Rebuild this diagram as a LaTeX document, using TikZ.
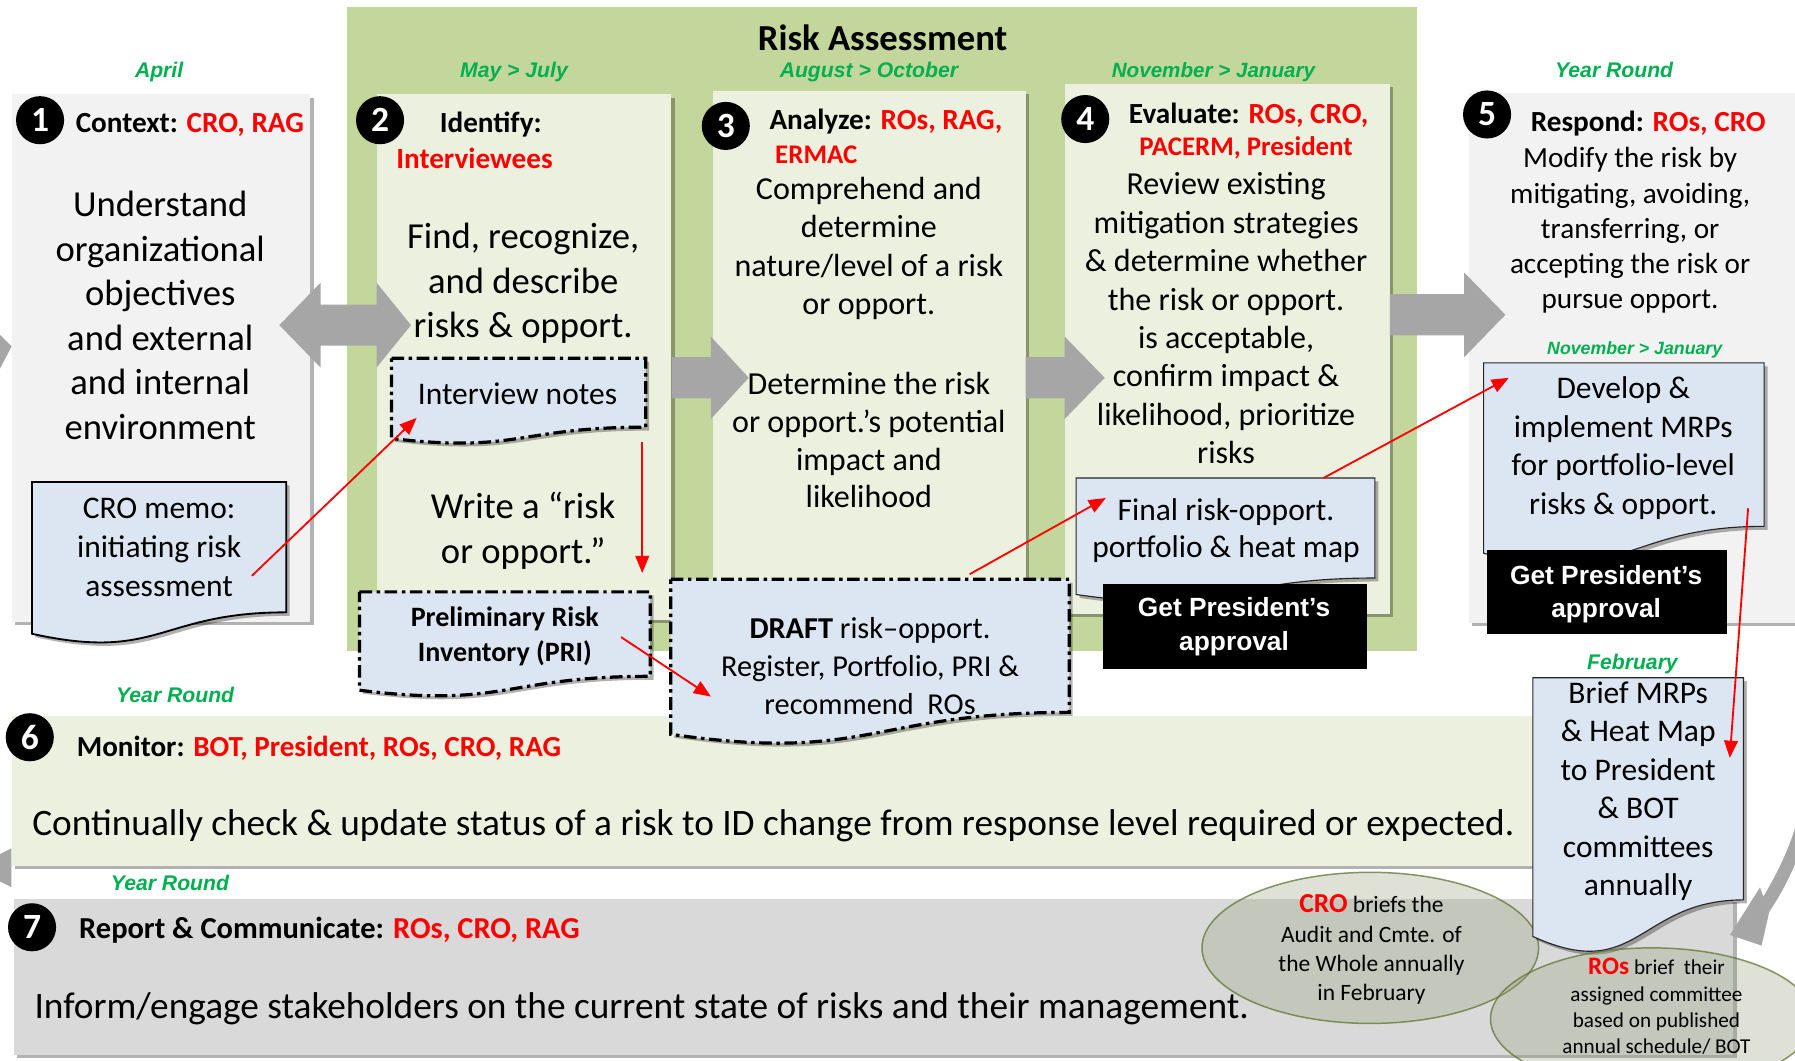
\documentclass[tikz,border=0pt]{standalone}
\usepackage{fontspec}
\setmainfont{Carlito}
\newfontfamily\arialf{Liberation Sans}
\usetikzlibrary{shadows,arrows.meta,shapes.geometric}
\definecolor{greenbg}{HTML}{C3D69B}
\definecolor{boxgreen}{HTML}{EBF1DE}
\definecolor{boxgray}{HTML}{F2F2F2}
\definecolor{boxseven}{HTML}{D9D9D9}
\definecolor{docblue}{HTML}{DCE6F2}
\definecolor{arrowgray}{HTML}{A6A6A6}
\definecolor{monthgreen}{HTML}{00B050}
\definecolor{ellfill}{RGB}{150,158,120}
\definecolor{elldraw}{RGB}{95,117,48}
\newcommand\fs[2]{\fontsize{#1}{#2}\selectfont}
\newcommand\redt[1]{\textcolor{red}{#1}}
\newcommand\greent[1]{\textcolor{monthgreen}{#1}}
\newcommand\docpath[5][]{\path[#1] (#2,#3) -- (#4,#3) -- (#4,{#3+0.802*#5}) .. controls ({(#2+#4)/2},{#3+0.802*#5}) and ({(#2+#4)/2},{#3+1.1075*#5}) .. (#2,{#3+0.934*#5}) -- cycle;}
\begin{document}
\begin{tikzpicture}[x=1pt,y=-1pt,
  shd/.style={drop shadow={shadow xshift=3pt,shadow yshift=-3pt,opacity=0.3,fill=black}},
  boxn/.style={draw=none,inner sep=0pt,shd,anchor=north west},
  docsolid/.style={fill=docblue,draw=black!85,line width=1pt,shd},
  docmemo/.style={fill=docblue,draw=black,line width=1.6pt,shd},
  docdash/.style={fill=docblue,draw=black,line width=2.8pt,dash pattern=on 11pt off 4pt on 3pt off 4pt,shd},
  blackbox/.style={fill=black,draw=none,inner sep=0pt,anchor=north west},
  badge/.style={circle,fill=black,text=white,minimum size=42pt,inner sep=0pt,font=\bfseries\fs{31}{31}},
  month/.style={anchor=base,inner sep=0pt,font=\arialf\bfseries\itshape\fs{18.5}{20}},
  hdr/.style={anchor=base west,inner sep=0pt,font=\bfseries\fs{25.5}{28}},
  body/.style={align=center,inner sep=0pt},
  approval/.style={align=center,inner sep=0pt,text=white,font=\arialf\bfseries\fs{23}{29}},
  garrow/.style={fill=arrowgray,draw=none},
  rarrow/.style={draw=red,line width=1.6pt,-{Triangle[length=15pt,width=12pt]}},
  ell/.style={ellipse,fill=ellfill,fill opacity=0.3,draw=elldraw,draw opacity=0.75,line width=1.3pt,inner sep=0pt}
]
\useasboundingbox (0,0) rectangle (1568,926);
\begin{scope}
\clip (0,0) rectangle (1568,926);
\fill[white] (0,0) rectangle (1568,926);

% Risk assessment background
\fill[greenbg] (303,6) rectangle (1238,569);
\node[anchor=base,inner sep=0pt,font=\bfseries\fs{32}{34}] (title) at (771,43.7) {Risk Assessment};

% partial cycle arrows at the left edge
\fill[garrow] (0,292.5) -- (10.2,302.6) -- (0,322) -- cycle;
\fill[garrow] (0,746) -- (10,741) -- (10,775) -- (0,770) -- cycle;

% stage boxes
\node[boxn,fill=boxgray,minimum width=261pt,minimum height=461pt] (box1) at (10,82) {};
\node[boxn,fill=boxgray,minimum width=300pt,minimum height=463pt] (box5) at (1283,81) {};
\node[boxn,fill=boxgreen,minimum width=257pt,minimum height=459pt] (box2) at (329,82) {};
\node[boxn,fill=boxgreen,minimum width=273pt,minimum height=461pt] (box3) at (623,79) {};
\node[boxn,fill=boxgreen,minimum width=284pt,minimum height=463pt] (box4) at (930,73) {};
\node[boxn,fill=boxgreen,minimum width=1390pt,minimum height=131pt] (box6) at (10,625) {};
\node[boxn,fill=boxseven,minimum width=1502pt,minimum height=136pt] (box7) at (12,785) {};

% big gray arrows
\fill[garrow] (244,284) -- (280,247) -- (280,266) -- (329,266) -- (329,247) -- (359,284) -- (329,321) -- (329,302) -- (280,302) -- (280,321) -- cycle;
\fill[garrow] (587,312) -- (621,312) -- (621,294) -- (654,330) -- (621,366) -- (621,348) -- (587,348) -- cycle;
\fill[garrow] (896,312) -- (930,312) -- (930,294) -- (965,330) -- (930,366) -- (930,348) -- (896,348) -- cycle;
\fill[garrow] (1214,257) -- (1279,257) -- (1279,238) -- (1315,275) -- (1279,312) -- (1279,293) -- (1214,293) -- cycle;
% curved arrow at the right edge
\fill[garrow] (1574,700) .. controls (1567,735) and (1553,762) .. (1540.3,783.3) -- (1537.4,775.1) -- (1511.2,816.7) -- (1538.8,826) -- (1545.5,796.4) .. controls (1558,778) and (1572,752) .. (1582,712) -- cycle;

% documents
\docpath[docmemo]{28}{421}{250}{142}
\docpath[docdash]{342}{313}{564}{75}
\docpath[docdash]{314}{517}{568}{92}
\docpath[docdash]{586}{506}{934}{145}
\docpath[docsolid]{940}{417.5}{1201}{109}
\docpath[docsolid]{1296}{317}{1541}{178}

% approval boxes
\node[blackbox,minimum width=231pt,minimum height=74pt] (appbox1) at (963,510) {};
\node[blackbox,minimum width=209pt,minimum height=73.5pt] (appbox2) at (1299,480.5) {};

% ellipse 1 and brief document
\node[ell,minimum width=294pt,minimum height=132pt] (ell1) at (1197,828) {};
\docpath[docsolid]{1339}{592}{1523}{242}
\node[ell,minimum width=282pt,minimum height=124pt] (ell2) at (1443,890) {};

% badges
\node[badge] (n1) at (35,105) {1};
\node[badge] (n2) at (332,105) {2};
\node[badge] (n3) at (634,110) {3};
\node[badge] (n4) at (948,104) {4};
\node[badge] (n5) at (1299,100) {5};
\node[badge] (n6) at (26,644) {6};
\node[badge] (n7) at (28,810) {7};

% month labels
\node[month] (m1) at (139,68) {\greent{April}};
\node[month] (m2) at (449,68) {\greent{May > July}};
\node[month] (m3) at (759,68) {\greent{August > October}};
\node[month,font=\arialf\bfseries\itshape\fs{18}{20}] (m4) at (1060,68) {\greent{November > January}};
\node[month] (m5) at (1410,68) {\greent{Year Round}};
\node[month,font=\arialf\bfseries\itshape\fs{15.5}{18}] (m6) at (1428,310) {\greent{November > January}};
\node[month] (m7) at (153,614) {\greent{Year Round}};
\node[month] (m8) at (1426,585) {\greent{February}};
\node[month] (m9) at (148.5,777.5) {\greent{Year Round}};

% headers
\node[hdr] (h1) at (66,116) {Context: \redt{CRO, RAG}};
\node[hdr] (h2) at (384,116) {Identify:};
\node[hdr] (h2b) at (346,147) {\redt{Interviewees}};
\node[hdr] (h3) at (672,113) {Analyze: \redt{ROs, RAG,}};
\node[hdr,font=\bfseries\fs{23.5}{26}] (h3b) at (677,142.5) {\redt{ERMAC}};
\node[hdr] (h4) at (986,107.7) {Evaluate: \redt{ROs, CRO,}};
\node[hdr,font=\bfseries\fs{23.5}{26}] (h4b) at (995,135.4) {\redt{PACERM, President}};
\node[hdr] (h5) at (1337,115) {Respond: \redt{ROs, CRO}};
\node[hdr,font=\bfseries\fs{25.4}{28}] (h6) at (67,660.6) {Monitor: \redt{BOT, President, ROs, CRO, RAG}};
\node[hdr,font=\bfseries\fs{26.6}{28}] (h7) at (69,820) {Report \& Communicate: \redt{ROs, CRO, RAG}};

% body texts
\node[body,font=\fs{32}{39}] (t1) at (140,275.5) {Understand\\organizational\\objectives\\and external\\and internal\\environment};
\node[body,font=\fs{32}{39}] (t2) at (457,247.5) {Find, recognize,\\and describe\\risks \& opport.};
\node[body,font=\fs{32}{39}] (t2w) at (457,463.5) {Write a “risk\\or opport.”};
\node[body,font=\fs{28}{33.5}] (t3) at (759,217) {Comprehend and\\determine\\nature/level of a risk\\or opport.};
\node[body,font=\fs{28}{33}] (t3d) at (759,384.5) {Determine the risk\\or opport.’s potential\\impact and\\likelihood};
\node[body,font=\fs{28}{33.5}] (t4) at (1071,278) {Review existing\\mitigation strategies\\\& determine whether\\the risk or opport.\\is acceptable,\\confirm impact \&\\likelihood, prioritize\\risks};
\node[body,font=\fs{25.5}{30.8}] (t5) at (1424,201.5) {Modify the risk by\\mitigating, avoiding,\\transferring, or\\accepting the risk or\\pursue opport.};
\node[body,font=\fs{27.5}{34}] (memo) at (139,478) {CRO memo:\\initiating risk\\assessment};
\node[body,font=\fs{27.5}{33}] (notes) at (452,344) {Interview notes};
\node[body,font=\bfseries\fs{24.5}{30}] (pri) at (441,556) {Preliminary Risk\\Inventory (PRI)};
\node[body,font=\fs{26.5}{33}] (draft) at (760,582) {\textbf{DRAFT} risk–opport.\\Register, Portfolio, PRI \&\\recommend~ ROs};
\node[body,font=\fs{27.5}{33}] (final) at (1071,463.5) {Final risk-opport.\\portfolio \& heat map};
\node[body,font=\fs{27.5}{33.7}] (develop) at (1418,391.5) {Develop \&\\implement MRPs\\for portfolio-level\\risks \& opport.};
\node[body,font=\fs{27.5}{33.6}] (brief) at (1431,691) {Brief MRPs\\\& Heat Map\\to President\\\& BOT\\committees\\annually};
\node[approval] (app1) at (1078,547.5) {Get President’s\\approval};
\node[approval] (app2) at (1403,519) {Get President’s\\approval};
\node[anchor=west,inner sep=0pt,font=\fs{32.6}{36}] (t6) at (28,721) {Continually check \& update status of a risk to ID change from response level required or expected.};
\node[anchor=west,inner sep=0pt,font=\fs{32.6}{36}] (t7) at (30,881) {Inform/engage stakeholders on the current state of risks and their management.};
\node[body,font=\fs{20.5}{25.7}] (e1t) at (1198,829.5) {{\fs{24}{25.7}\bfseries\redt{CRO}} briefs the\\Audit and Cmte. of\\the Whole annually\\in February};
\node[body,font=\fs{18.5}{22.8}] (e2t) at (1447,879) {{\fs{22}{22.8}\bfseries\redt{ROs}} brief~ their\\assigned committee\\based on published\\annual schedule/ BOT};

% red connectors
\coordinate (memoout) at (220,503);
\coordinate (notesin) at (364,365);
\coordinate (notesout) at (561,386);
\coordinate (priin) at (561,500.5);
\coordinate (priout) at (542.5,556.5);
\coordinate (draftin) at (621,608.5);
\coordinate (draftout) at (847,501.6);
\coordinate (finalin) at (966,435);
\coordinate (finalout) at (1156,417.6);
\coordinate (developin) at (1318,330);
\coordinate (developout) at (1527,444);
\coordinate (briefin) at (1511,662);
\draw[rarrow] (memoout) -- (notesin);
\draw[rarrow] (notesout) -- (priin);
\draw[rarrow] (priout) -- (draftin);
\draw[rarrow] (draftout) -- (finalin);
\draw[rarrow] (finalout) -- (developin);
\draw[rarrow] (developout) -- (briefin);
\end{scope}
\end{tikzpicture}
\end{document}
